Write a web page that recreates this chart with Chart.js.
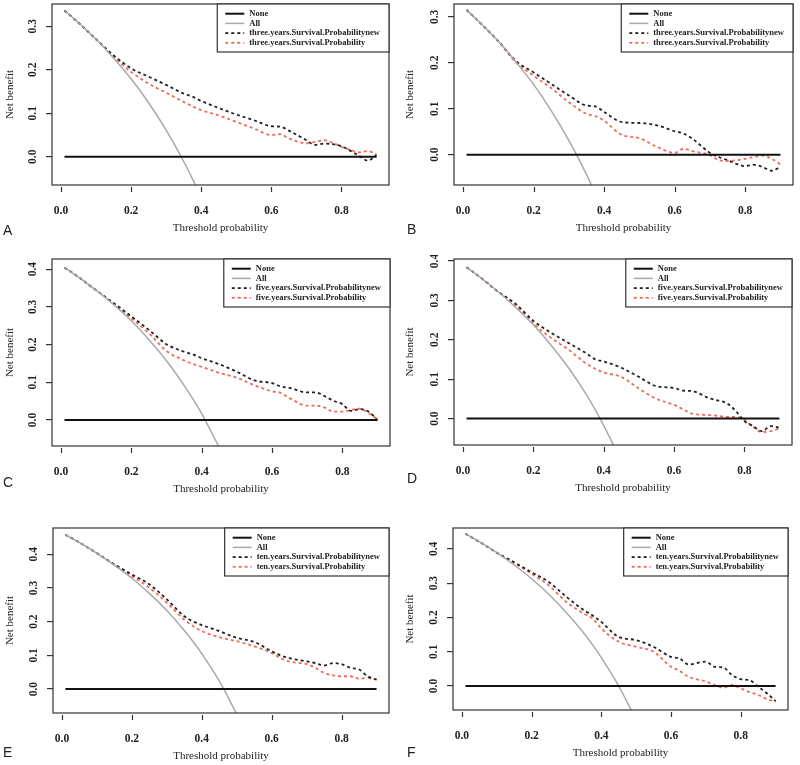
<!DOCTYPE html>
<html>
<head>
<meta charset="utf-8">
<script src="https://cdn.jsdelivr.net/npm/chart.js@4.4.0/dist/chart.umd.min.js"></script>
<style>
  body { margin: 0; background: #fff; }
  #wrap { position: relative; width: 800px; height: 765px; overflow: hidden; }
  #wrap canvas { position: absolute; }
  .tag { position: absolute; font: 14px 'Liberation Sans', Arial, sans-serif; color: #222; line-height: 14px; }
</style>
</head>
<body>
<div id="wrap"></div>
<script>
// threshold probabilities shared by all six panels
const thresholds = [0.01, 0.05, 0.10, 0.15, 0.20, 0.25, 0.30, 0.35, 0.375, 0.40, 0.45, 0.50, 0.55,
                    0.60, 0.625, 0.65, 0.70, 0.725, 0.75, 0.775, 0.80, 0.825, 0.85, 0.875, 0.90];
const xTicks = [0, 0.2, 0.4, 0.6, 0.8];
const noneX = [0.01, 0.90];
const noneY = [0, 0];

// A / B : three years
const allA  = [0.336, 0.308, 0.270, 0.227, 0.179, 0.124, 0.061, -0.011, -0.051, -0.095];
const newA  = [0.336, 0.308, 0.270, 0.233, 0.203, 0.184, 0.165, 0.145, 0.138, 0.128, 0.112, 0.097, 0.084,
               0.070, 0.069, 0.060, 0.038, 0.027, 0.030, 0.029, 0.024, 0.014, 0.002, -0.009, 0.004];
const probA = [0.336, 0.308, 0.270, 0.230, 0.195, 0.168, 0.147, 0.126, 0.116, 0.107, 0.095, 0.080, 0.065,
               0.050, 0.052, 0.042, 0.031, 0.034, 0.038, 0.032, 0.023, 0.016, 0.010, 0.013, 0.006];
const allB  = [0.315, 0.286, 0.247, 0.202, 0.153, 0.096, 0.031, -0.043, -0.085];
const newB  = [0.315, 0.286, 0.247, 0.204, 0.179, 0.154, 0.129, 0.107, 0.105, 0.093, 0.071, 0.069, 0.064,
               0.051, 0.046, 0.035, 0.004, -0.005, -0.012, -0.020, -0.025, -0.022, -0.027, -0.035, -0.027];
const probB = [0.315, 0.286, 0.247, 0.201, 0.172, 0.145, 0.114, 0.089, 0.084, 0.074, 0.043, 0.036, 0.017,
               0.004, 0.013, 0.008, -0.001, -0.012, -0.014, -0.012, -0.009, -0.005, -0.002, -0.009, -0.021];

// C / D : five years
const allC  = [0.404, 0.379, 0.344, 0.306, 0.263, 0.213, 0.157, 0.092, 0.056, 0.017, -0.073];
const newC  = [0.404, 0.379, 0.344, 0.310, 0.275, 0.239, 0.201, 0.181, 0.174, 0.164, 0.148, 0.128, 0.105,
               0.098, 0.089, 0.085, 0.073, 0.073, 0.063, 0.051, 0.042, 0.024, 0.029, 0.022, 0.000];
const probC = [0.404, 0.379, 0.344, 0.308, 0.270, 0.230, 0.183, 0.158, 0.149, 0.141, 0.125, 0.112, 0.092,
               0.076, 0.072, 0.058, 0.038, 0.038, 0.033, 0.022, 0.022, 0.027, 0.030, 0.018, 0.002];
const allD  = [0.384, 0.358, 0.322, 0.282, 0.238, 0.187, 0.129, 0.062, 0.024, -0.017, -0.109];
const newD  = [0.384, 0.358, 0.322, 0.291, 0.248, 0.218, 0.192, 0.166, 0.151, 0.145, 0.129, 0.106, 0.082,
               0.078, 0.071, 0.070, 0.052, 0.046, 0.039, 0.020, -0.006, -0.019, -0.032, -0.019, -0.023];
const probD = [0.384, 0.358, 0.322, 0.286, 0.241, 0.205, 0.175, 0.140, 0.127, 0.117, 0.106, 0.076, 0.050,
               0.035, 0.024, 0.013, 0.009, 0.007, 0.004, 0.004, -0.003, -0.021, -0.034, -0.032, -0.025];

// E / F : ten years
const allE  = [0.458, 0.435, 0.403, 0.368, 0.329, 0.284, 0.233, 0.174, 0.141, 0.105, 0.024, -0.074];
const newE  = [0.458, 0.435, 0.403, 0.370, 0.340, 0.311, 0.266, 0.216, 0.201, 0.190, 0.172, 0.152, 0.140,
               0.112, 0.100, 0.092, 0.082, 0.077, 0.070, 0.077, 0.074, 0.063, 0.058, 0.038, 0.028];
const probE = [0.458, 0.435, 0.403, 0.368, 0.335, 0.301, 0.256, 0.206, 0.187, 0.172, 0.154, 0.142, 0.127,
               0.107, 0.092, 0.082, 0.074, 0.063, 0.048, 0.041, 0.038, 0.038, 0.031, 0.033, 0.028];
const allF  = [0.444, 0.421, 0.389, 0.353, 0.313, 0.267, 0.214, 0.154, 0.120, 0.083, 0.000, -0.100];
const newF  = [0.444, 0.421, 0.389, 0.361, 0.332, 0.303, 0.260, 0.221, 0.206, 0.187, 0.143, 0.134, 0.114,
               0.085, 0.080, 0.063, 0.071, 0.056, 0.054, 0.032, 0.020, 0.017, -0.002, -0.021, -0.044];
const probF = [0.444, 0.421, 0.389, 0.359, 0.327, 0.293, 0.245, 0.211, 0.197, 0.168, 0.129, 0.114, 0.100,
               0.056, 0.044, 0.027, 0.013, 0.003, -0.005, 0.003, -0.007, -0.018, -0.026, -0.038, -0.046];

const yTicks3 = [0, 0.1, 0.2, 0.3];
const yTicks4 = [0, 0.1, 0.2, 0.3, 0.4];

// panel setup; box = plot region [left, top, right, bottom] on the page
const panels = [
  {tag: 'A', model: 'three', all: allA, nw: newA, pr: probA, yMin: -0.065, yMax: 0.351, yTicks: yTicks3, box: [52, 4, 389, 185], tagY: 230},
  {tag: 'B', model: 'three', all: allB, nw: newB, pr: probB, yMin: -0.066, yMax: 0.328, yTicks: yTicks3, box: [454, 4, 793, 185], tagY: 229},
  {tag: 'C', model: 'five',  all: allC, nw: newC, pr: probC, yMin: -0.069, yMax: 0.427, yTicks: yTicks4, box: [52, 259, 390, 446], tagY: 482},
  {tag: 'D', model: 'five',  all: allD, nw: newD, pr: probD, yMin: -0.067, yMax: 0.405, yTicks: yTicks4, box: [454, 259, 792, 445], tagY: 478},
  {tag: 'E', model: 'ten',   all: allE, nw: newE, pr: probE, yMin: -0.071, yMax: 0.478, yTicks: yTicks4, box: [53, 528, 389, 713], tagY: 752},
  {tag: 'F', model: 'ten',   all: allF, nw: newF, pr: probF, yMin: -0.070, yMax: 0.461, yTicks: yTicks4, box: [453, 528, 788, 710], tagY: 752}
];

const serif = "'Liberation Serif', 'Times New Roman', serif";
Chart.defaults.font.family = serif;
Chart.defaults.color = '#222';

function pts(xs, ys) {
  return ys.map((v, i) => ({x: xs[i], y: v}));
}

// R-like decorations: full box, detached x ticks, legend in top right corner
const rPlot = {
  id: 'rPlot',
  afterDatasetsDraw(chart) {
    const {ctx, chartArea: a, scales: {x}} = chart;
    ctx.save();
    ctx.strokeStyle = '#333';
    ctx.lineWidth = 1.2;
    ctx.setLineDash([]);
    ctx.strokeRect(a.left, a.top, a.right - a.left, a.bottom - a.top);
    x.ticks.forEach(t => {
      const px = Math.round(x.getPixelForValue(t.value)) + 0.5;
      ctx.beginPath();
      ctx.moveTo(px, a.bottom + 2);
      ctx.lineTo(px, a.bottom + 7);
      ctx.stroke();
    });

    ctx.font = 'bold 8.5px ' + serif;
    const ds = chart.data.datasets;
    const tw = Math.max(...ds.map(d => ctx.measureText(d.label).width));
    const w = tw + 41, h = 48, L = a.right - w, T = a.top;
    ctx.fillStyle = '#fff';
    ctx.fillRect(L, T, w, h);
    ctx.strokeRect(L, T, w, h);
    ds.forEach((d, i) => {
      const y = T + 9.7 + i * 9.7;
      ctx.beginPath();
      ctx.setLineDash(d.borderDash || []);
      ctx.strokeStyle = d.borderColor;
      ctx.lineWidth = d.borderWidth;
      ctx.moveTo(L + 8, y);
      ctx.lineTo(L + 27, y);
      ctx.stroke();
      ctx.setLineDash([]);
      ctx.fillStyle = '#222';
      ctx.textBaseline = 'middle';
      ctx.textAlign = 'left';
      ctx.fillText(d.label, L + 32, y);
    });
    ctx.restore();
  }
};

const wrap = document.getElementById('wrap');

panels.forEach(p => {
  const [bl, bt, br, bb] = p.box;
  const cLeft = bl < 400 ? 0 : 400;
  const cTop = bt - 4;
  const cH = bb - bt + 4 + 52;

  const cv = document.createElement('canvas');
  cv.width = 400;
  cv.height = cH;
  cv.style.left = cLeft + 'px';
  cv.style.top = cTop + 'px';
  wrap.appendChild(cv);

  const tag = document.createElement('div');
  tag.className = 'tag';
  tag.textContent = p.tag;
  tag.style.left = (cLeft + (cLeft ? 7 : 3)) + 'px';
  tag.style.top = (p.tagY - 7) + 'px';
  wrap.appendChild(tag);

  const line = {pointRadius: 0, fill: false, clip: 0, cubicInterpolationMode: 'monotone'};

  new Chart(cv, {
    type: 'line',
    data: {
      datasets: [
        {...line, label: 'None', data: pts(noneX, noneY), borderColor: '#111', borderWidth: 2},
        {...line, label: 'All', data: pts(thresholds, p.all), borderColor: '#a9a9a9', borderWidth: 1.5},
        {...line, label: p.model + '.years.Survival.Probabilitynew', data: pts(thresholds, p.nw),
          borderColor: '#222', borderWidth: 1.8, borderDash: [3, 3]},
        {...line, label: p.model + '.years.Survival.Probability', data: pts(thresholds, p.pr),
          borderColor: '#ee6a5a', borderWidth: 1.8, borderDash: [3, 3]}
      ]
    },
    options: {
      responsive: false,
      animation: false,
      layout: {padding: {top: 4, right: cLeft + 400 - br, left: 0, bottom: 0}},
      plugins: {legend: {display: false}, tooltip: {enabled: false}},
      scales: {
        x: {
          type: 'linear',
          min: -0.0256,
          max: 0.9356,
          afterBuildTicks: s => { s.ticks = xTicks.map(v => ({value: v})); },
          afterFit: s => { s.height = 52; s.paddingLeft = 0; s.paddingRight = 0; },
          grid: {display: false},
          border: {display: false},
          ticks: {font: {size: 11.5, weight: 'bold'}, padding: 11, maxRotation: 0, color: '#222',
                  callback: v => v.toFixed(1)},
          title: {display: true, text: 'Threshold probability', font: {size: 11}, color: '#222',
                  padding: {top: 0, bottom: 2.5}}
        },
        y: {
          min: p.yMin,
          max: p.yMax,
          afterBuildTicks: s => { s.ticks = p.yTicks.map(v => ({value: v})); },
          afterFit: s => { s.width = bl - cLeft; s.paddingTop = 0; s.paddingBottom = 0; },
          grid: {drawOnChartArea: false, drawTicks: true, tickLength: 6, color: '#333', lineWidth: 1.2},
          border: {display: false},
          ticks: {font: {size: 11.5, weight: 'bold'}, padding: 6, minRotation: 90, maxRotation: 90,
                  crossAlign: 'center', color: '#222', callback: v => v.toFixed(1)},
          title: {display: true, text: 'Net benefit', font: {size: 11}, color: '#222',
                  padding: {top: 3.4, bottom: 0}}
        }
      }
    },
    plugins: [rPlot]
  });
});
</script>
</body>
</html>
